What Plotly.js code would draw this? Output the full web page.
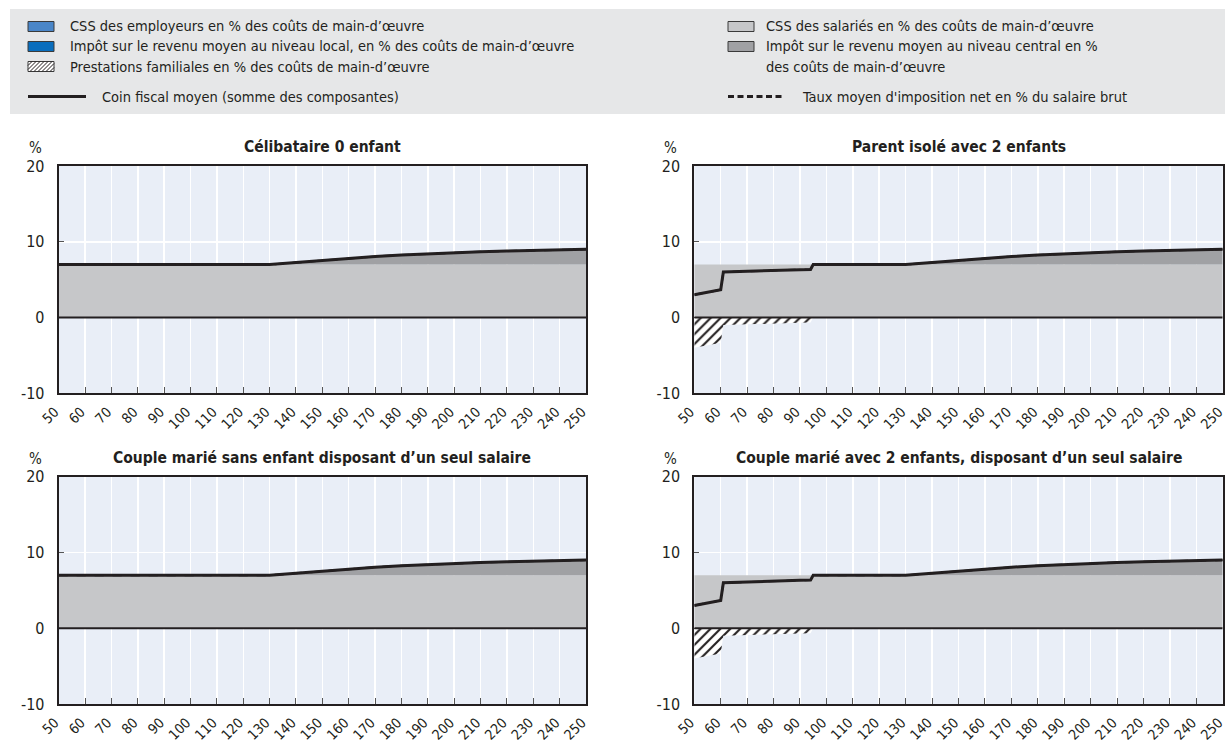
<!DOCTYPE html>
<html>
<head>
<meta charset="utf-8">
<script src="https://cdn.plot.ly/plotly-3.0.1.min.js"></script>
<style>
  html, body { margin: 0; padding: 0; background: #ffffff; }
  #chart { width: 1225px; height: 743px; }
</style>
</head>
<body>
<div id="chart"></div>
<script>
// ---------- DATA ----------
const wage = [50, 60, 61, 70, 80, 90, 94, 95, 100, 110, 120, 130, 140, 150, 160, 170, 180, 190, 200, 210, 220, 230, 240, 250];
const xTicks = [50, 60, 70, 80, 90, 100, 110, 120, 130, 140, 150, 160, 170, 180, 190, 200, 210, 220, 230, 240, 250];
const yTicks = [-10, 0, 10, 20];

const panelTitles = [
  "Célibataire 0 enfant",
  "Parent isolé avec 2 enfants",
  "Couple marié sans enfant disposant d’un seul salaire",
  "Couple marié avec 2 enfants, disposant d’un seul salaire"
];

// Employee SSC (% of labour costs)
const employeeSSC_single  = [7,7,7,7,7,7,7,7,7,7,7,7,7,7,7,7,7,7,7,7,7,7,7,7];
const employeeSSC_parent  = [7,7,7,7,7,7,7,7,7,7,7,7,7,7,7,7,7,7,7,7,7,7,7,7];
const employeeSSC_couple  = [7,7,7,7,7,7,7,7,7,7,7,7,7,7,7,7,7,7,7,7,7,7,7,7];
const employeeSSC_couple2 = [7,7,7,7,7,7,7,7,7,7,7,7,7,7,7,7,7,7,7,7,7,7,7,7];

// Central income tax (% of labour costs)
const centralTax_single  = [0,0,0,0,0,0,0,0,0,0,0,0,0.25,0.55,0.8,1.05,1.25,1.42,1.56,1.68,1.78,1.87,1.94,2.0];
const centralTax_parent  = [0,0,0,0,0,0,0,0,0,0,0,0,0.25,0.55,0.8,1.05,1.25,1.42,1.56,1.68,1.78,1.87,1.94,2.0];
const centralTax_couple  = [0,0,0,0,0,0,0,0,0,0,0,0,0.25,0.55,0.8,1.05,1.25,1.42,1.56,1.68,1.78,1.87,1.94,2.0];
const centralTax_couple2 = [0,0,0,0,0,0,0,0,0,0,0,0,0.25,0.55,0.8,1.05,1.25,1.42,1.56,1.68,1.78,1.87,1.94,2.0];

// Family benefits (% of labour costs, negative)
const familyBen_single  = [0,0,0,0,0,0,0,0,0,0,0,0,0,0,0,0,0,0,0,0,0,0,0,0];
const familyBen_parent  = [-4.0,-3.33,-1.0,-0.87,-0.76,-0.68,-0.65,0,0,0,0,0,0,0,0,0,0,0,0,0,0,0,0,0];
const familyBen_couple  = [0,0,0,0,0,0,0,0,0,0,0,0,0,0,0,0,0,0,0,0,0,0,0,0];
const familyBen_couple2 = [-4.0,-3.33,-1.0,-0.87,-0.76,-0.68,-0.65,0,0,0,0,0,0,0,0,0,0,0,0,0,0,0,0,0];

// Average tax wedge (sum of components)
const taxWedge_single  = [7,7,7,7,7,7,7,7,7,7,7,7,7.25,7.55,7.8,8.05,8.25,8.42,8.56,8.68,8.78,8.87,8.94,9.0];
const taxWedge_parent  = [3.0,3.67,6.0,6.13,6.24,6.32,6.35,7,7,7,7,7,7.25,7.55,7.8,8.05,8.25,8.42,8.56,8.68,8.78,8.87,8.94,9.0];
const taxWedge_couple  = [7,7,7,7,7,7,7,7,7,7,7,7,7.25,7.55,7.8,8.05,8.25,8.42,8.56,8.68,8.78,8.87,8.94,9.0];
const taxWedge_couple2 = [3.0,3.67,6.0,6.13,6.24,6.32,6.35,7,7,7,7,7,7.25,7.55,7.8,8.05,8.25,8.42,8.56,8.68,8.78,8.87,8.94,9.0];

// Net average tax rate (% of gross wage)
const netRate_single  = [7,7,7,7,7,7,7,7,7,7,7,7,7.25,7.55,7.8,8.05,8.25,8.42,8.56,8.68,8.78,8.87,8.94,9.0];
const netRate_parent  = [3.0,3.67,6.0,6.13,6.24,6.32,6.35,7,7,7,7,7,7.25,7.55,7.8,8.05,8.25,8.42,8.56,8.68,8.78,8.87,8.94,9.0];
const netRate_couple  = [7,7,7,7,7,7,7,7,7,7,7,7,7.25,7.55,7.8,8.05,8.25,8.42,8.56,8.68,8.78,8.87,8.94,9.0];
const netRate_couple2 = [3.0,3.67,6.0,6.13,6.24,6.32,6.35,7,7,7,7,7,7.25,7.55,7.8,8.05,8.25,8.42,8.56,8.68,8.78,8.87,8.94,9.0];

const legendLeft = [
  "CSS des employeurs en % des coûts de main-d’œuvre",
  "Impôt sur le revenu moyen au niveau local, en % des coûts de main-d’œuvre",
  "Prestations familiales en % des coûts de main-d’œuvre",
  "Coin fiscal moyen (somme des composantes)"
];
const legendRight = [
  "CSS des salariés en % des coûts de main-d’œuvre",
  "Impôt sur le revenu moyen au niveau central en %",
  "des coûts de main-d’œuvre",
  "Taux moyen d'imposition net en % du salaire brut"
];

// ---------- STYLE ----------
const W = 1225, H = 743;
const FONT = "'DejaVu Sans Condensed', 'Liberation Sans Narrow', 'Arial Narrow', sans-serif";
const INK = '#231f20';
const C_EMP = '#4a86c8', C_LOCAL = '#0a6ebd', C_SSC = '#c6c7c9', C_CENTRAL = '#a0a1a4';
const px = v => v / W;
const py = v => 1 - v / H;

const panels = [
  {ssc: employeeSSC_single,  tax: centralTax_single,  ben: familyBen_single,  wedge: taxWedge_single,  net: netRate_single},
  {ssc: employeeSSC_parent,  tax: centralTax_parent,  ben: familyBen_parent,  wedge: taxWedge_parent,  net: netRate_parent},
  {ssc: employeeSSC_couple,  tax: centralTax_couple,  ben: familyBen_couple,  wedge: taxWedge_couple,  net: netRate_couple},
  {ssc: employeeSSC_couple2, tax: centralTax_couple2, ben: familyBen_couple2, wedge: taxWedge_couple2, net: netRate_couple2}
];

const xDomains = [[px(58.7), px(586)], [px(694.3), px(1222.7)]];
const yDomains = [[py(393.3), py(166)], [py(704), py(476.7)]];

const data = [];
const layout = {
  width: W, height: H,
  margin: {l: 0, r: 0, t: 0, b: 0},
  paper_bgcolor: '#ffffff',
  plot_bgcolor: '#e9eef7',
  showlegend: false,
  font: {family: FONT, color: INK, size: 15},
  shapes: [],
  annotations: []
};

panels.forEach((p, i) => {
  const n = i + 1;
  const xa = 'x' + (n === 1 ? '' : n), ya = 'y' + (n === 1 ? '' : n);
  const col = i % 2, row = Math.floor(i / 2);
  data.push({
    x: wage, y: p.ben, xaxis: xa, yaxis: ya, type: 'scatter', mode: 'lines',
    fill: 'tozeroy', line: {width: 0, color: INK},
    fillcolor: 'white',
    fillpattern: {shape: '/', size: 7, solidity: 0.3, fgcolor: INK, bgcolor: 'white'},
    hoverinfo: 'skip'
  });
  data.push({
    x: wage, y: p.ssc, xaxis: xa, yaxis: ya, type: 'scatter', mode: 'lines',
    stackgroup: 'g' + n, line: {width: 0}, fillcolor: C_SSC, hoverinfo: 'skip'
  });
  data.push({
    x: wage, y: p.tax, xaxis: xa, yaxis: ya, type: 'scatter', mode: 'lines',
    stackgroup: 'g' + n, line: {width: 0}, fillcolor: C_CENTRAL, hoverinfo: 'skip'
  });
  data.push({
    x: wage, y: p.wedge, xaxis: xa, yaxis: ya, type: 'scatter', mode: 'lines',
    line: {width: 3, color: INK}, hoverinfo: 'skip'
  });
  data.push({
    x: wage, y: p.net, xaxis: xa, yaxis: ya, type: 'scatter', mode: 'lines',
    line: {width: 2, color: INK, dash: 'dash'}, hoverinfo: 'skip'
  });

  layout['xaxis' + (n === 1 ? '' : n)] = {
    domain: xDomains[col], anchor: ya, range: [50, 250],
    tickmode: 'array', tickvals: xTicks, ticktext: xTicks.map(String),
    tickangle: -45, ticks: 'inside', ticklen: 6, tickwidth: 1, tickcolor: '#555',
    showgrid: true, gridcolor: '#ffffff', gridwidth: 1.5,
    showline: true, mirror: true, linecolor: INK, linewidth: 2,
    zeroline: false, tickfont: {family: FONT, size: 14, color: INK},
    ticklabelstandoff: 3, ticklabelshift: -4, ticklabeloverflow: 'allow',
    automargin: false, fixedrange: true
  };
  layout['yaxis' + (n === 1 ? '' : n)] = {
    domain: yDomains[row], anchor: xa, range: [-10, 20],
    tickmode: 'array', tickvals: yTicks, ticktext: yTicks.map(String),
    ticks: 'inside', ticklen: 5, tickwidth: 1, tickcolor: '#555',
    showgrid: true, gridcolor: '#ffffff', gridwidth: 1.5,
    showline: true, mirror: true, linecolor: INK, linewidth: 2,
    zeroline: false, tickfont: {family: FONT, size: 16, color: INK},
    ticklabelstandoff: 9, ticklabeloverflow: 'allow',
    automargin: false, fixedrange: true
  };
  // zero line above fills
  layout.shapes.push({
    type: 'line', xref: xa, yref: ya, x0: 50, x1: 250, y0: 0, y1: 0,
    line: {color: INK, width: 2}, layer: 'above'
  });
  // panel title
  layout.annotations.push({
    xref: 'paper', yref: 'paper',
    x: (xDomains[col][0] + xDomains[col][1]) / 2, y: yDomains[row][1],
    yanchor: 'bottom', xanchor: 'center', yshift: 8, showarrow: false,
    text: '<b>' + panelTitles[i] + '</b>',
    font: {family: FONT, size: 15.5, color: INK}
  });
  // % label
  layout.annotations.push({
    xref: 'paper', yref: 'paper',
    x: xDomains[col][0] - px(23.5), y: yDomains[row][1],
    yanchor: 'middle', xanchor: 'center', yshift: 18, showarrow: false,
    text: '%', font: {family: FONT, size: 15, color: INK}
  });
});

// ---------- LEGEND (drawn manually) ----------
layout.shapes.push({
  type: 'rect', xref: 'paper', yref: 'paper', layer: 'below',
  x0: px(10), x1: px(1225), y0: py(114), y1: py(9),
  fillcolor: '#e6e7e8', line: {width: 0}
});
const rowsY = [26.5, 46.5, 66.5, 96.5];
function swatch(x0, yc, color) {
  layout.shapes.push({
    type: 'rect', xref: 'paper', yref: 'paper',
    x0: px(x0), x1: px(x0 + 26), y0: py(yc + 5), y1: py(yc - 5),
    fillcolor: color, line: {color: '#3a3a3a', width: 1}
  });
}
swatch(28, rowsY[0], C_EMP);
swatch(28, rowsY[1], C_LOCAL);
swatch(728, rowsY[0], C_SSC);
swatch(728, rowsY[1], C_CENTRAL);
// hatched swatch
(function () {
  const x0 = 28, x1 = 54, yT = rowsY[2] - 5, yB = rowsY[2] + 5;
  layout.shapes.push({
    type: 'rect', xref: 'paper', yref: 'paper',
    x0: px(x0), x1: px(x1), y0: py(yB), y1: py(yT),
    fillcolor: '#ffffff', line: {color: '#3a3a3a', width: 1}
  });
  let path = '';
  for (let k = -10; k < 26; k += 4) {
    let ax = x0 + k, ay = yB, bx = x0 + k + 10, by = yT;
    if (ax < x0) { ay = yB - (x0 - ax); ax = x0; }
    if (bx > x1) { by = yT + (bx - x1); bx = x1; }
    if (bx <= ax) continue;
    path += 'M' + px(ax) + ',' + py(ay) + 'L' + px(bx) + ',' + py(by);
  }
  layout.shapes.push({
    type: 'path', xref: 'paper', yref: 'paper', path: path,
    line: {color: INK, width: 1}
  });
})();
layout.shapes.push({
  type: 'line', xref: 'paper', yref: 'paper',
  x0: px(28), x1: px(86), y0: py(rowsY[3]), y1: py(rowsY[3]),
  line: {color: INK, width: 3}
});
layout.shapes.push({
  type: 'line', xref: 'paper', yref: 'paper',
  x0: px(728), x1: px(783), y0: py(rowsY[3]), y1: py(rowsY[3]),
  line: {color: INK, width: 3, dash: '6px,3.5px'}
});
function legText(x, y, t) {
  layout.annotations.push({
    xref: 'paper', yref: 'paper', x: px(x), y: py(y),
    xanchor: 'left', yanchor: 'middle', showarrow: false,
    text: t, font: {family: FONT, size: 14.5, color: INK}
  });
}
legText(68, rowsY[0], legendLeft[0]);
legText(68, rowsY[1], legendLeft[1]);
legText(68, rowsY[2], legendLeft[2]);
legText(100, rowsY[3], legendLeft[3]);
legText(764, rowsY[0], legendRight[0]);
legText(764, rowsY[1], legendRight[1]);
legText(764, rowsY[2], legendRight[2]);
legText(800, rowsY[3], legendRight[3]);

Plotly.newPlot('chart', data, layout, {staticPlot: true, displayModeBar: false});
</script>
</body>
</html>
